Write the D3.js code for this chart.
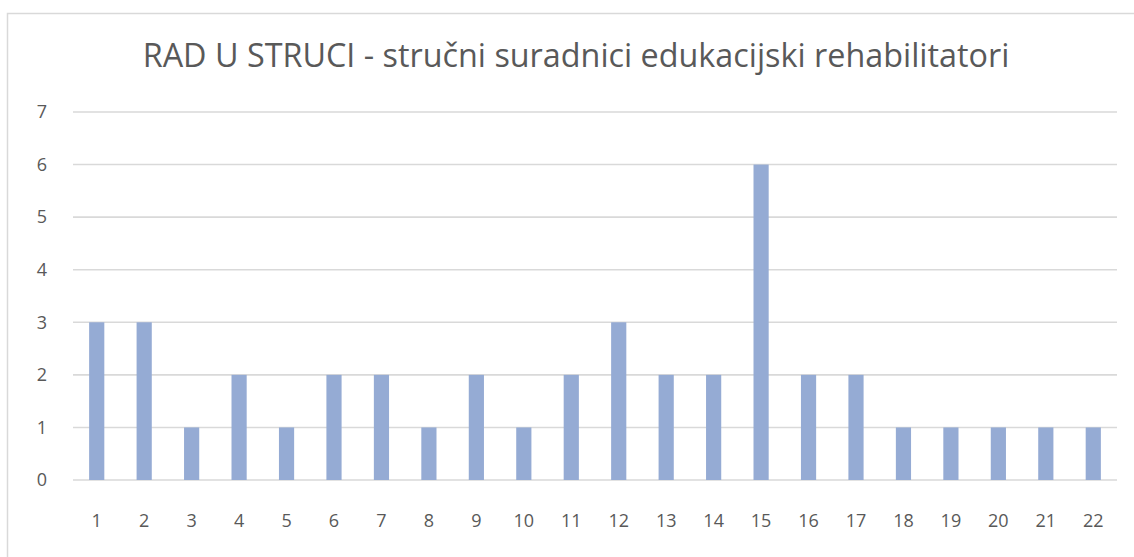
<!DOCTYPE html>
<html>
<head>
<meta charset="utf-8">
<script src="https://cdn.jsdelivr.net/npm/d3@7"></script>
<style>
  html, body { margin: 0; padding: 0; background: #fff; }
  svg { display: block; }
</style>
</head>
<body>
<div id="chart"></div>
<script>
// chart data
const title = "RAD U STRUCI - stručni suradnici edukacijski rehabilitatori";
const categories = ["1","2","3","4","5","6","7","8","9","10","11","12","13","14","15","16","17","18","19","20","21","22"];
const values = [3,3,1,2,1,2,2,1,2,1,2,3,2,2,6,2,2,1,1,1,1,1];
const yTicks = [0,1,2,3,4,5,6,7];

const width = 1134, height = 557;
const plot = { left: 73, right: 1117, top: 112, bottom: 480 };
const labelFont = "'Open Sans', sans-serif";

const svg = d3.select("#chart")
  .append("svg")
  .attr("width", width)
  .attr("height", height);

svg.append("rect")
  .attr("width", width).attr("height", height)
  .attr("fill", "#fff");

// chart area border (extends past the right/bottom edge)
svg.append("rect")
  .attr("x", 7.5).attr("y", 13.5)
  .attr("width", 1200).attr("height", 600)
  .attr("fill", "none")
  .attr("stroke", "#d9d9d9")
  .attr("stroke-width", 1.5);

const x = d3.scaleBand()
  .domain(categories)
  .range([plot.left, plot.right])
  .paddingInner(0.68)
  .paddingOuter(0.34);

const y = d3.scaleLinear()
  .domain([0, 7])
  .range([plot.bottom, plot.top]);

// gridlines
svg.append("g")
  .selectAll("line")
  .data(yTicks)
  .enter()
  .append("line")
  .attr("x1", plot.left)
  .attr("x2", plot.right)
  .attr("y1", d => y(d))
  .attr("y2", d => y(d))
  .attr("stroke", "#d9d9d9")
  .attr("stroke-width", 1.6);

// y axis labels
const yAxis = svg.append("g")
  .attr("transform", `translate(${plot.left - 24},0)`)
  .call(d3.axisLeft(y).tickValues(yTicks).tickFormat(d3.format("d")).tickSize(0).tickPadding(0));
yAxis.attr("font-size", 18).attr("font-family", labelFont);
yAxis.select(".domain").remove();
yAxis.selectAll("text")
  .attr("text-anchor", "middle")
  .attr("x", -7)
  .attr("fill", "#595959");

// bars
svg.append("g")
  .selectAll("rect")
  .data(values)
  .enter()
  .append("rect")
  .attr("x", (d, i) => x(categories[i]))
  .attr("y", d => y(d))
  .attr("width", x.bandwidth())
  .attr("height", d => y(0) - y(d))
  .attr("fill", "#95abd4");

// x axis labels
const xAxis = svg.append("g")
  .attr("transform", `translate(0,${plot.bottom})`)
  .call(d3.axisBottom(x).tickSize(0).tickPadding(0));
xAxis.attr("font-size", 18).attr("font-family", labelFont);
xAxis.select(".domain").remove();
xAxis.selectAll("text")
  .attr("y", 47)
  .attr("dy", 0)
  .attr("fill", "#595959");

// title
const t = svg.append("text")
  .attr("x", 576)
  .attr("y", 67)
  .attr("text-anchor", "middle")
  .attr("fill", "#595959")
  .style("font-family", labelFont)
  .style("font-size", "28px")
  .text(title);
const tw = t.node().getComputedTextLength();
t.style("font-size", (28 * 867 / tw).toFixed(2) + "px");
</script>
</body>
</html>
